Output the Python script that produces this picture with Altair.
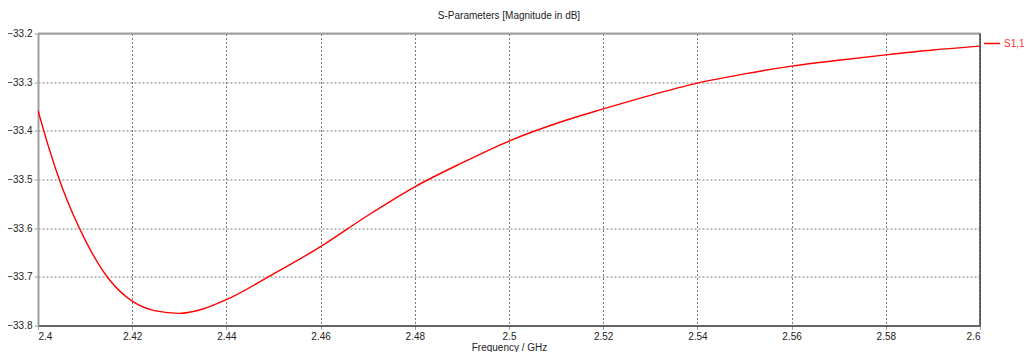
import altair as alt
import pandas as pd

# Frequency (GHz) and S1,1 magnitude (dB)
freq = [2.400, 2.4025, 2.405, 2.410, 2.415, 2.420, 2.425, 2.430, 2.435, 2.440,
        2.450, 2.460, 2.470, 2.480, 2.490, 2.500, 2.510, 2.520, 2.530, 2.540,
        2.550, 2.560, 2.570, 2.580, 2.590, 2.600]
s11 = [-33.358, -33.441, -33.513, -33.624, -33.704, -33.750, -33.770, -33.775, -33.766, -33.747,
       -33.694, -33.638, -33.574, -33.515, -33.466, -33.421, -33.385, -33.355, -33.327, -33.302,
       -33.283, -33.267, -33.255, -33.244, -33.234, -33.226]
series = ["S1,1"] * len(freq)

x_ticks = [2.40, 2.42, 2.44, 2.46, 2.48, 2.50, 2.52, 2.54, 2.56, 2.58, 2.60]
y_ticks = [-33.8, -33.7, -33.6, -33.5, -33.4, -33.3, -33.2]
x_domain = [2.4, 2.6]
y_domain = [-33.8, -33.2]

df = pd.DataFrame({"freq": freq, "s11": s11, "series": series})

FONT = "Liberation Sans"
GRID = "#7a7a7a"
LIGHT = "#a0a0a0"
DARK = "#404040"

x_scale = alt.Scale(domain=x_domain, nice=False, zero=False)
y_scale = alt.Scale(domain=y_domain, nice=False, zero=False)

line = alt.Chart(df).mark_line(strokeWidth=1.4, interpolate="monotone", clip=True).encode(
    x=alt.X("freq:Q", scale=x_scale,
            axis=alt.Axis(title="Frequency / GHz", values=x_ticks, format="~g",
                          grid=True, gridDash=[2, 2], gridColor=GRID, gridOpacity=1,
                          domain=True, domainColor=DARK, domainWidth=1.5,
                          tickSize=4, tickColor=LIGHT, labelPadding=2,
                          labelFont=FONT, labelFontSize=10, labelColor="#222",
                          titleFont=FONT, titleFontSize=10, titleFontWeight="normal",
                          titleColor="#222", titleBaseline="alphabetic", titleY=24.5)),
    y=alt.Y("s11:Q", scale=y_scale,
            axis=alt.Axis(title=None, values=y_ticks, format=".1f",
                          grid=True, gridDash=[2, 2], gridColor=GRID, gridOpacity=1,
                          domain=True, domainColor=LIGHT, domainWidth=2,
                          tickSize=4, tickColor=LIGHT, labelPadding=2,
                          labelFont=FONT, labelFontSize=10, labelColor="#222")),
    color=alt.Color("series:N",
                    scale=alt.Scale(domain=["S1,1"], range=["#ff0000"]),
                    legend=alt.Legend(title=None, orient="none", legendX=945, legendY=1,
                                      symbolType="stroke", symbolSize=256,
                                      symbolStrokeWidth=1.5, labelColor="#ff3030",
                                      labelFont=FONT, labelFontSize=10, labelOffset=3)),
)

top_rule = alt.Chart(pd.DataFrame({"y": [y_domain[1]]})).mark_rule(
    color=LIGHT, strokeWidth=2).encode(y=alt.Y("y:Q", scale=y_scale))
right_rule = alt.Chart(pd.DataFrame({"x": [x_domain[1]]})).mark_rule(
    color=DARK, strokeWidth=1.5).encode(x=alt.X("x:Q", scale=x_scale))

chart = alt.layer(top_rule, right_rule, line).properties(
    width=942, height=292,
    title=alt.TitleParams("S-Parameters [Magnitude in dB]", font=FONT, fontSize=10,
                          fontWeight="normal", color="#222", anchor="middle", offset=8),
    autosize=alt.AutoSizeParams(type="none"),
    padding={"left": 30, "top": 25.5, "right": 48, "bottom": 26},
).configure_view(stroke=None).configure(background="white")

chart.save("out.html", embed_options={"renderer": "svg", "actions": False})
